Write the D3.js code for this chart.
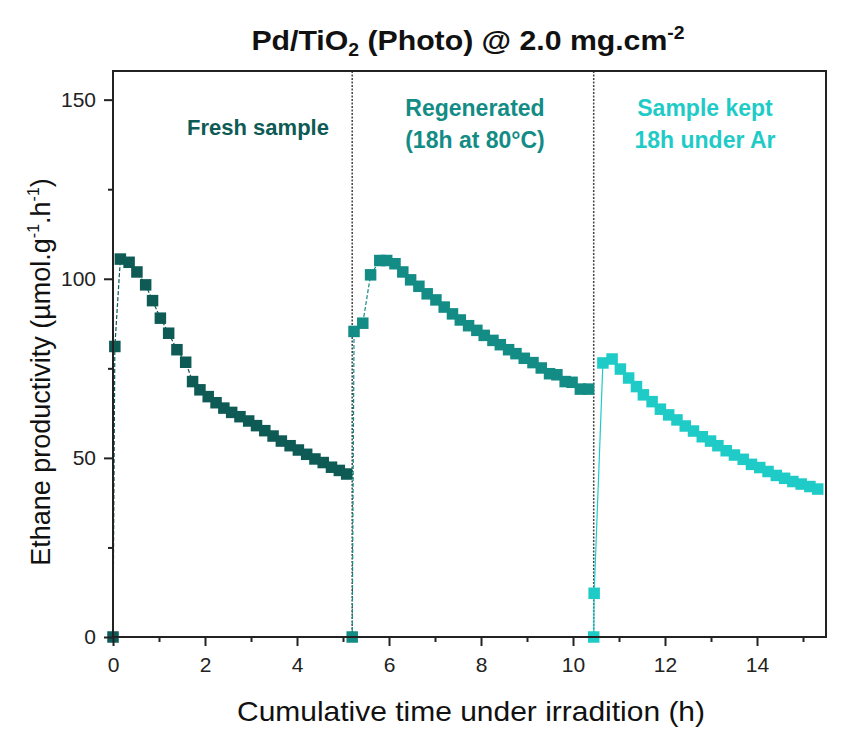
<!DOCTYPE html>
<html>
<head>
<meta charset="utf-8">
<script src="https://cdn.jsdelivr.net/npm/d3@7"></script>
<style>
  body { margin: 0; background: #fff; }
  svg { font-family: "Liberation Sans", Arial, sans-serif; }
</style>
</head>
<body>
<svg id="chart" width="844" height="729"></svg>
<script>
"use strict";

// data (time in h, productivity in umol/g/h)
const freshTime = [0, 0.04, 0.16, 0.35, 0.52, 0.71, 0.86, 1.03, 1.21, 1.39, 1.58, 1.73, 1.89, 2.07, 2.24, 2.41, 2.58, 2.76, 2.95, 3.12, 3.30, 3.48, 3.66, 3.85, 4.03, 4.21, 4.39, 4.57, 4.75, 4.92, 5.08];
const freshValue = [0, 81.1, 105.5, 104.6, 101.9, 98.3, 93.9, 89.0, 84.8, 80.2, 76.7, 71.3, 69.0, 67.1, 65.4, 63.9, 62.7, 61.5, 60.3, 59.0, 57.6, 56.1, 54.7, 53.4, 52.2, 51.0, 49.7, 48.7, 47.4, 46.5, 45.5];

const regenTime = [5.2, 5.24, 5.43, 5.60, 5.80, 5.95, 6.13, 6.30, 6.47, 6.65, 6.83, 7.02, 7.20, 7.38, 7.55, 7.73, 7.91, 8.07, 8.26, 8.42, 8.60, 8.76, 8.94, 9.13, 9.31, 9.49, 9.65, 9.83, 9.98, 10.16, 10.34];
const regenValue = [0, 85.3, 87.6, 101.1, 105.1, 105.1, 104.2, 101.9, 99.7, 97.9, 95.8, 94.1, 92.1, 90.2, 88.5, 86.9, 85.6, 84.2, 82.8, 81.6, 80.2, 79.1, 77.8, 76.6, 75.1, 73.5, 73.2, 71.3, 71.1, 69.2, 69.2];

const keptTime = [10.45, 10.46, 10.65, 10.85, 11.03, 11.21, 11.38, 11.53, 11.72, 11.90, 12.08, 12.26, 12.44, 12.62, 12.81, 12.99, 13.15, 13.33, 13.51, 13.70, 13.88, 14.06, 14.24, 14.42, 14.60, 14.78, 14.96, 15.15, 15.32];
const keptValue = [0, 12.2, 76.5, 77.6, 74.8, 72.3, 69.9, 67.6, 65.7, 63.6, 62.0, 60.6, 58.9, 57.5, 55.9, 54.7, 53.4, 52.0, 50.8, 49.6, 48.2, 47.3, 46.2, 45.1, 44.3, 43.4, 42.7, 42.0, 41.3];

const separators = [5.2, 10.45];
const xMajorTicks = [0, 2, 4, 6, 8, 10, 12, 14];
const xMinorTicks = [1, 3, 5, 7, 9, 11, 13, 15];
const yMajorTicks = [0, 50, 100, 150];
const yMinorTicks = [25, 75, 125];

const seriesNames = ["Fresh sample", "Regenerated", "Sample kept"];
const seriesColors = ["#0e5a55", "#138c86", "#1fcbc7"];

const margin = {top: 71, right: 18, bottom: 92, left: 113};
const width = 844, height = 729;

function zipSeries(times, values) {
    return times.map((t, i) => ({t: t, v: values[i]}));
}

function draw() {
    const svg = d3.select("#chart");

    const x = d3.scaleLinear().domain([0, 15.5]).range([margin.left, width - margin.right]);
    const y = d3.scaleLinear().domain([0, 158]).range([height - margin.bottom, margin.top]);

    const series = [
        {name: seriesNames[0], color: seriesColors[0], dash: "4,2", data: zipSeries(freshTime, freshValue)},
        {name: seriesNames[1], color: seriesColors[1], dash: "4,2", data: zipSeries(regenTime, regenValue)},
        {name: seriesNames[2], color: seriesColors[2], dash: null, data: zipSeries(keptTime, keptValue)}
    ];

    // dotted separators between the three runs
    svg.selectAll("line.sep")
        .data(separators)
        .join("line")
        .attr("class", "sep")
        .attr("x1", d => x(d)).attr("x2", d => x(d))
        .attr("y1", y.range()[1]).attr("y2", y.range()[0])
        .attr("stroke", "#444")
        .attr("stroke-width", 1.5)
        .attr("stroke-dasharray", "2,1.5");

    const line = d3.line().x(d => x(d.t)).y(d => y(d.v));
    const sz = 11.5;

    const g = svg.selectAll("g.series")
        .data(series)
        .join("g")
        .attr("class", "series");

    g.append("path")
        .attr("d", s => line(s.data))
        .attr("fill", "none")
        .attr("stroke", s => s.color)
        .attr("stroke-width", 1.2)
        .attr("stroke-dasharray", s => s.dash);

    g.selectAll("rect")
        .data(s => s.data.map(p => ({t: p.t, v: p.v, color: s.color})))
        .join("rect")
        .attr("x", d => x(d.t) - sz / 2)
        .attr("y", d => y(d.v) - sz / 2)
        .attr("width", sz)
        .attr("height", sz)
        .attr("fill", d => d.color);

    // axes
    svg.append("g")
        .attr("transform", `translate(0,${y(0)})`)
        .call(d3.axisBottom(x).tickValues(xMajorTicks).tickSize(9).tickPadding(11).tickFormat(d3.format("d")));
    svg.append("g")
        .attr("transform", `translate(0,${y(0)})`)
        .call(d3.axisBottom(x).tickValues(xMinorTicks).tickSize(5).tickFormat(""));
    svg.append("g")
        .attr("transform", `translate(${x(0)},0)`)
        .call(d3.axisLeft(y).tickValues(yMajorTicks).tickSize(9).tickPadding(8).tickFormat(d3.format("d")));
    svg.append("g")
        .attr("transform", `translate(${x(0)},0)`)
        .call(d3.axisLeft(y).tickValues(yMinorTicks).tickSize(5).tickFormat(""));

    svg.selectAll(".domain").remove();
    svg.selectAll(".tick line").attr("stroke", "#222").attr("stroke-width", 2);
    svg.selectAll(".tick text").attr("font-size", 21).attr("fill", "#222")
        .attr("font-family", "'Liberation Sans', Arial, sans-serif");

    // frame
    svg.append("rect")
        .attr("x", x.range()[0]).attr("y", y.range()[1])
        .attr("width", x.range()[1] - x.range()[0])
        .attr("height", y.range()[0] - y.range()[1])
        .attr("fill", "none")
        .attr("stroke", "#222")
        .attr("stroke-width", 2);

    // title (slightly wide in the original)
    const title = svg.append("text")
        .attr("transform", "translate(468,50) scale(1.08,1)")
        .attr("text-anchor", "middle")
        .attr("font-size", 28).attr("font-weight", "bold").attr("fill", "#111");
    title.append("tspan").text("Pd/TiO");
    title.append("tspan").attr("font-size", 18).attr("dy", 6).text("2");
    title.append("tspan").attr("dy", -6).text(" (Photo) @ 2.0 mg.cm");
    title.append("tspan").attr("font-size", 18).attr("dy", -11).text("-2");

    // run labels
    const labels = [
        {lines: ["Fresh sample"], cx: 258, y0: 135, size: 22, color: seriesColors[0]},
        {lines: ["Regenerated", "(18h at 80°C)"], cx: 475, y0: 116, size: 23, color: seriesColors[1]},
        {lines: ["Sample kept", "18h under Ar"], cx: 705, y0: 116, size: 23, color: seriesColors[2]}
    ];
    labels.forEach(l => {
        l.lines.forEach((s, i) => {
            svg.append("text")
                .attr("x", l.cx).attr("y", l.y0 + i * 32)
                .attr("text-anchor", "middle")
                .attr("font-size", l.size).attr("font-weight", "bold")
                .attr("fill", l.color)
                .text(s);
        });
    });

    // axis titles
    svg.append("text")
        .attr("x", 471).attr("y", 721)
        .attr("text-anchor", "middle")
        .attr("font-size", 28).attr("fill", "#111")
        .attr("textLength", 468).attr("lengthAdjust", "spacingAndGlyphs")
        .text("Cumulative time under irradition (h)");

    const yl = svg.append("text")
        .attr("transform", "translate(50,372) rotate(-90)")
        .attr("text-anchor", "middle")
        .attr("font-size", 27).attr("fill", "#111");
    yl.append("tspan").text("Ethane productivity (µmol.g");
    yl.append("tspan").attr("font-size", 16).attr("dy", -11).text("-1");
    yl.append("tspan").attr("dy", 11).text(".h");
    yl.append("tspan").attr("font-size", 16).attr("dy", -11).text("-1");
    yl.append("tspan").attr("dy", 11).text(")");
}

window.addEventListener("load", draw);
</script>
</body>
</html>
